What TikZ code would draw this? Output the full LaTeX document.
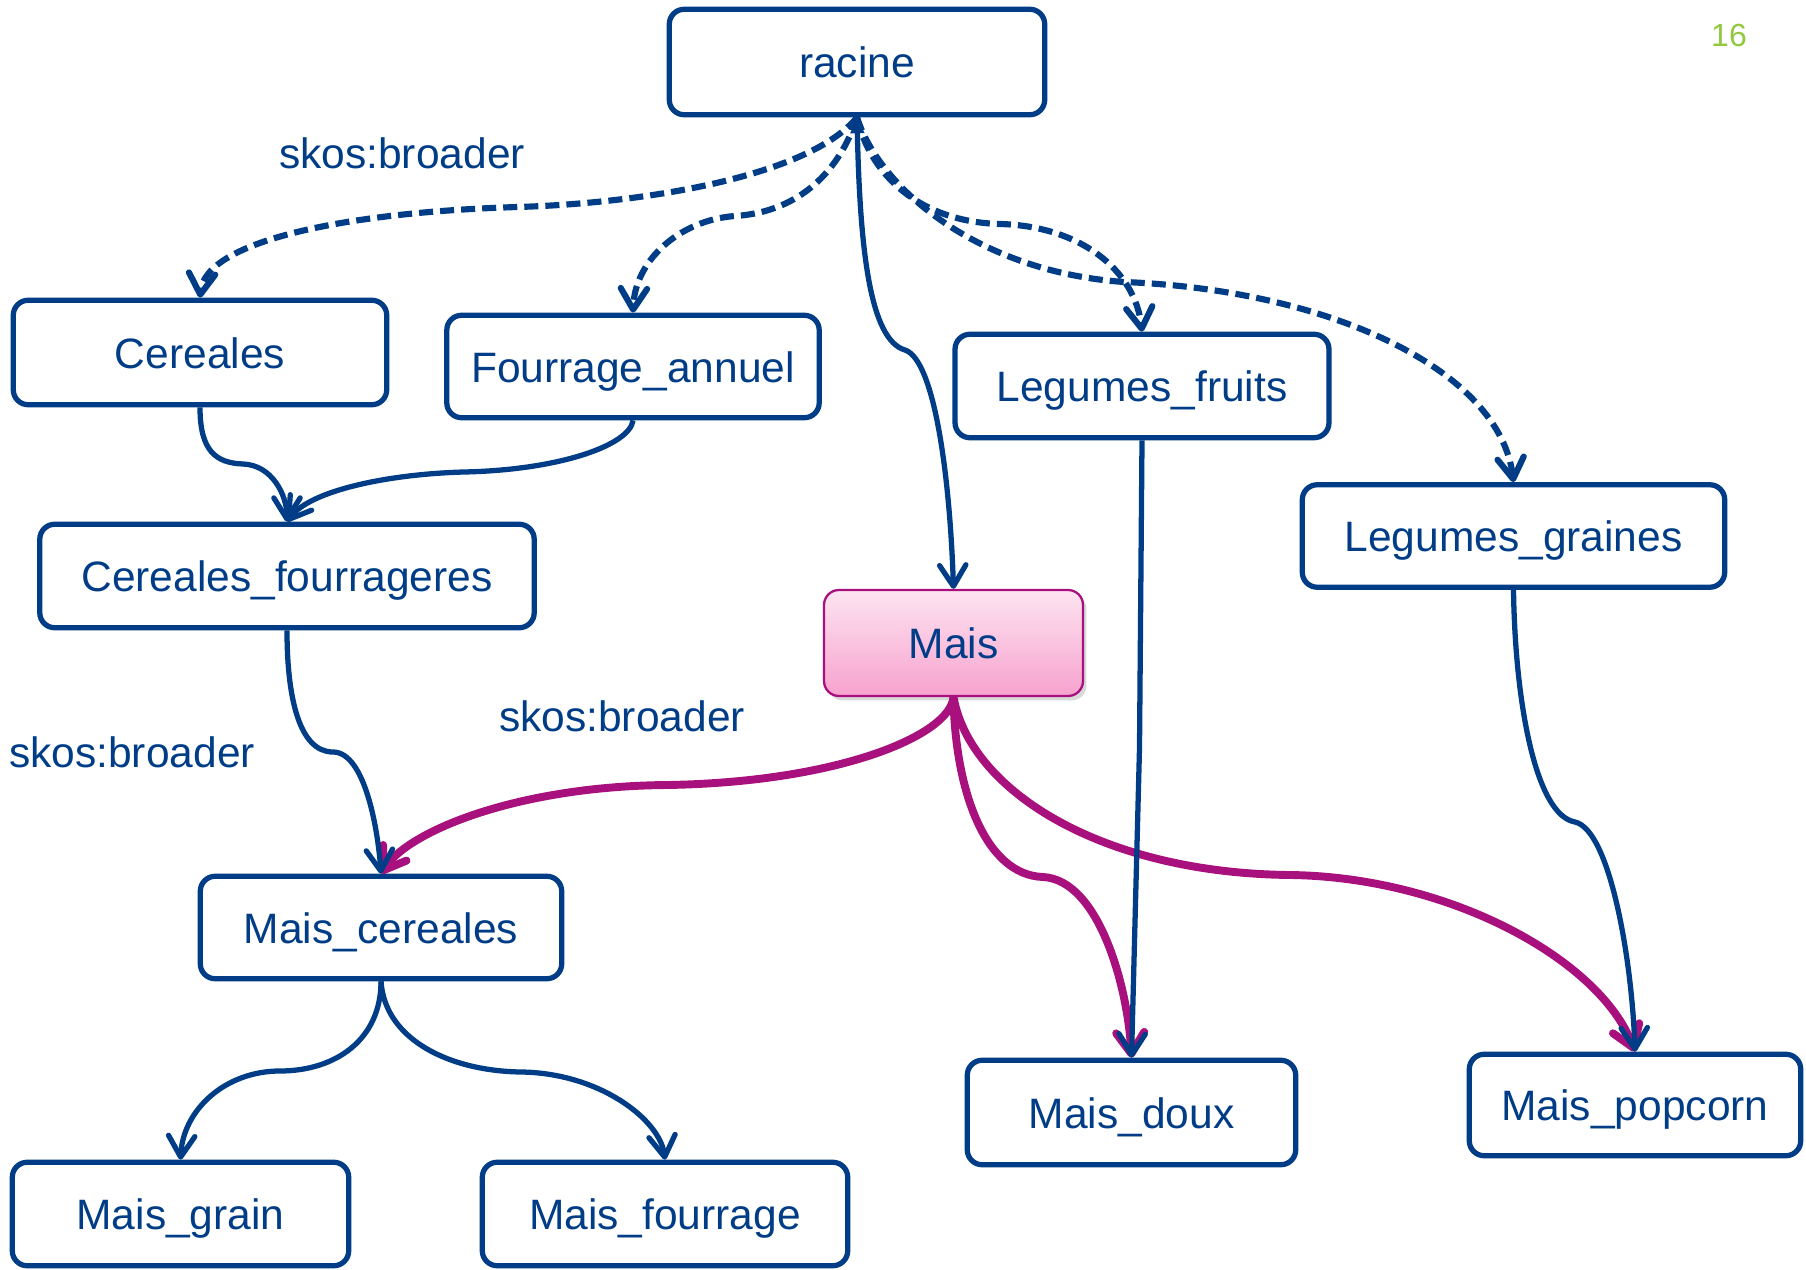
\documentclass[tikz,border=0pt]{standalone}
\usepackage{fontspec}
\setmainfont{Liberation Sans}
\usetikzlibrary{arrows.meta,shadows}
\definecolor{dblue}{RGB}{0,61,134}
\definecolor{mag}{RGB}{168,16,126}
\definecolor{pinktop}{RGB}{253,228,241}
\definecolor{pinkbot}{RGB}{247,162,206}
\definecolor{grn}{RGB}{146,200,62}
\begin{document}
\begin{tikzpicture}[x=0.02cm,y=-0.02cm,
  bigfont/.style={font=\fontsize{24.2pt}{29pt}\selectfont},
  box/.style={draw=dblue, line width=3pt, rounded corners=8.5pt, fill=white,
    text=dblue, bigfont, text height=23pt, text depth=4.8pt, inner sep=0pt},
  lbl/.style={text=dblue, bigfont, inner sep=0pt},
  blueedge/.style={draw=dblue, line width=3pt,
    -{Straight Barb[length=12pt,width=15pt,round]}},
  dashedge/.style={blueedge, line width=3.5pt, dash pattern=on 8pt off 4pt},
  magedge/.style={draw=mag, line width=4.5pt,
    -{Straight Barb[length=12pt,width=16pt,round]},
    preaction={draw=black, opacity=0.18, transform canvas={shift={(1.2pt,-1.6pt)}}}}
]
\useasboundingbox (0,0) rectangle (1806,1270);

% nodes
\node[box, minimum width=7.51cm, minimum height=2.11cm] (racine) at (857,62) {racine};
\node[box, minimum width=7.47cm, minimum height=2.09cm] (cer) at (200,352.5) {Cereales};
\node[box, minimum width=7.45cm, minimum height=2.05cm] (fa) at (633,366.5) {Fourrage\_annuel};
\node[box, minimum width=7.48cm, minimum height=2.07cm] (lf) at (1142,386) {Legumes\_fruits};
\node[box, minimum width=8.45cm, minimum height=2.05cm] (lg) at (1513.5,536) {Legumes\_graines};
\node[box, minimum width=9.89cm, minimum height=2.07cm] (cf) at (287,576) {Cereales\_fourrageres};
\node[box, draw=mag, line width=1.3pt, top color=pinktop, bottom color=pinkbot,
  drop shadow={shadow xshift=2pt, shadow yshift=-2.5pt, opacity=0.3},
  minimum width=5.18cm, minimum height=2.12cm] (mais) at (953.5,643) {Mais};
\node[box, minimum width=7.23cm, minimum height=2.05cm] (mc) at (381,927.5) {Mais\_cereales};
\node[box, minimum width=6.57cm, minimum height=2.09cm] (md) at (1131.5,1112.5) {Mais\_doux};
\node[box, minimum width=6.63cm, minimum height=2.03cm] (mp) at (1635,1105) {Mais\_popcorn};
\node[box, minimum width=6.73cm, minimum height=2.07cm] (mg) at (180.5,1214) {Mais\_grain};
\node[box, minimum width=7.31cm, minimum height=2.07cm] (mf) at (665,1214) {Mais\_fourrage};

% labels
\node[lbl] (l1) at (402,153) {skos:broader};
\node[lbl] (l2) at (622,716) {skos:broader};
\node[lbl] (l3) at (132,752) {skos:broader};
\node[text=grn, font=\fontsize{18.2pt}{22pt}\selectfont, inner sep=0pt] (num) at (1729,35) {16};

% dashed edges from racine
\draw[dashedge] (racine.south) .. controls (810,175) and (650,203) .. (518,207)
  .. controls (350,212) and (205,240) .. (cer.north);
\draw[dashedge] (racine.south) .. controls (840,170) and (800,212) .. (735,216)
  .. controls (680,220) and (635,260) .. (fa.north);
\draw[dashedge] (racine.south) .. controls (870,175) and (920,222) .. (1000,224)
  .. controls (1080,226) and (1135,270) .. (lf.north);
\draw[dashedge] (racine.south) .. controls (880,190) and (980,272) .. (1124,282)
  .. controls (1330,290) and (1500,370) .. (lg.north);

% magenta edges from Mais
\draw[magedge] (mais.south) .. controls (950,735) and (840,782) .. (668,785)
  .. controls (520,786) and (410,830) .. (mc.north);
\draw[magedge] (mais.south) .. controls (955,790) and (985,875) .. (1043,877)
  .. controls (1100,880) and (1128,990) .. (md.north);
\draw[magedge] (mais.south) .. controls (970,790) and (1100,873) .. (1290,875)
  .. controls (1450,877) and (1600,960) .. (mp.north);

% solid blue edges
\draw[blueedge, {Triangle[length=9pt,width=7.5pt]}-{Straight Barb[length=12pt,width=15pt,round]}]
  (racine.south) .. controls (860,250) and (870,340) .. (905,350)
  .. controls (935,360) and (950,480) .. (mais.north);
\draw[blueedge] (cer.south) .. controls (200,450) and (215,463) .. (243,464)
  .. controls (272,465) and (287,495) .. (cf.north);
\draw[blueedge] (fa.south) .. controls (630,445) and (560,470) .. (464,472)
  .. controls (390,474) and (310,490) .. (cf.north);
\draw[blueedge] (cf.south) .. controls (287,700) and (300,752) .. (333,752)
  .. controls (365,752) and (378,830) .. (mc.north);
\coordinate (k1) at (1139.5,748);
\draw[blueedge] (lf.south) -- (k1) -- (md.north);
\draw[blueedge] (lg.south) .. controls (1515,700) and (1535,815) .. (1575,822)
  .. controls (1610,830) and (1632,960) .. (mp.north);
\draw[blueedge] (mc.south) .. controls (381,1040) and (335,1071) .. (280,1071)
  .. controls (225,1071) and (183,1110) .. (mg.north);
\draw[blueedge] (mc.south) .. controls (385,1040) and (450,1071) .. (521,1072)
  .. controls (600,1073) and (660,1120) .. (mf.north);
\end{tikzpicture}
\end{document}
